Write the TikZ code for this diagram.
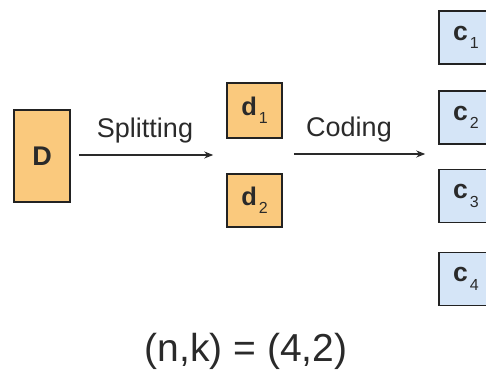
\documentclass[tikz,border=0pt]{standalone}
\usepackage{fontspec}
\setmainfont{Liberation Sans}
\usetikzlibrary{calc,arrows.meta}
\definecolor{datafill}{HTML}{FAC97D}
\definecolor{codefill}{HTML}{D5E5F7}
\definecolor{edge}{HTML}{222222}
\definecolor{ink}{HTML}{2A2A2A}
\newcommand{\blocklabel}[2]{{\bfseries #1}\kern2pt\raisebox{-8.5pt}{\fontsize{16}{16}\selectfont #2}}
\tikzset{
  datablock/.style={draw=edge, line width=1.5pt, fill=datafill, inner sep=0pt,
    font=\fontsize{25.5}{25.5}\selectfont, text=ink},
  codeblock/.style={draw=edge, line width=1.5pt, fill=codefill, inner sep=0pt,
    minimum width=54pt, minimum height=53pt, font=\fontsize{26.5}{26.5}\selectfont, text=ink},
  flow/.style={line width=1.3pt, draw=ink, -{Stealth[length=9pt,width=7pt]}},
  flowlabel/.style={font=\fontsize{27}{27}\selectfont, anchor=base, text=ink}
}
\begin{document}
\begin{tikzpicture}[x=1pt,y=1pt]
  \useasboundingbox (0,0) rectangle (486,369);
  \begin{scope}
    \clip (0,0) rectangle (486,369);
    % original block
    \node[datablock, minimum width=56pt, minimum height=92pt, font=\fontsize{27}{27}\selectfont] (D) at (42,213) {\bfseries D};
    % split blocks
    \node[datablock, minimum width=55pt, minimum height=55pt] (d1) at (254.5,258.5) {\blocklabel{d}{1}};
    \node[datablock, minimum width=55pt, minimum height=53pt] (d2) at (254.5,168.5) {\blocklabel{d}{2}};
    % coded blocks
    \node[codeblock] (c1) at (466,331.5) {\blocklabel{c}{1}};
    \node[codeblock] (c2) at (466,251.5) {\blocklabel{c}{2}};
    \node[codeblock] (c3) at (466,173)   {\blocklabel{c}{3}};
    \node[codeblock] (c4) at (466,90)    {\blocklabel{c}{4}};
    % arrows between stages
    \coordinate (splitline) at (0,214);
    \coordinate (codeline) at (0,215);
    \draw[flow] ([xshift=8pt]D.east |- splitline) -- ([xshift=-13pt]d1.west |- splitline);
    \draw[flow] ([xshift=11pt]d1.east |- codeline) -- ([xshift=-13pt]c2.west |- codeline);
    \node[flowlabel] (lsplit) at (145,231) {Splitting};
    \node[flowlabel] (lcode) at (349,232) {Coding};
    % code parameters
    \node[font=\fontsize{39}{39}\selectfont, anchor=base, text=ink] (nk) at (246,8) {(n,k) = (4,2)};
  \end{scope}
\end{tikzpicture}
\end{document}
